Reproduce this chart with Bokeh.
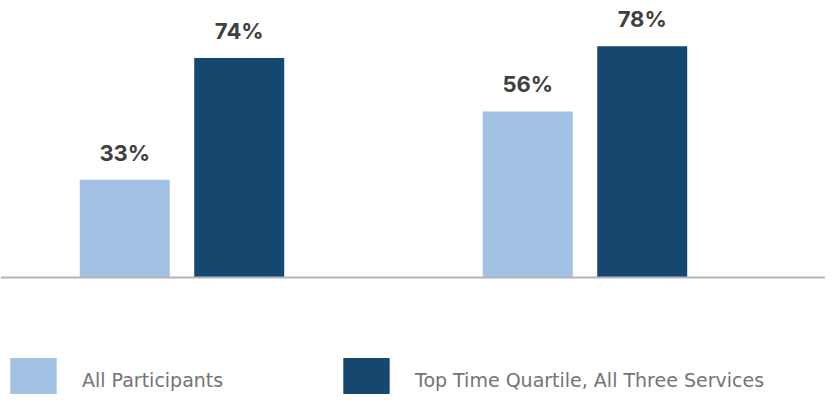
from bokeh.plotting import figure
from bokeh.models import ColumnDataSource, LabelSet, Span, Legend, LegendItem, Range1d
from bokeh.core.properties import value
from bokeh.transform import dodge
from bokeh.embed import file_html
from bokeh.resources import INLINE

groups = [0, 1]
series_names = ["All Participants", "Top Time Quartile, All Three Services"]
all_participants = [33, 56]
top_quartile = [74, 78]
colors = ["#A1C1E5", "#16486F"]

src = ColumnDataSource(dict(
    x=groups,
    a=all_participants,
    b=top_quartile,
    a_lab=[f"{v}%" for v in all_participants],
    b_lab=[f"{v}%" for v in top_quartile],
))

p = figure(width=825, height=394, output_backend="svg", toolbar_location=None,
           x_range=Range1d(-0.4504, 1.5968), y_range=Range1d(-39.46, 93.42),
           min_border=0, min_border_left=0, min_border_right=0,
           min_border_top=0, min_border_bottom=0)
p.axis.visible = False
p.grid.visible = False
p.outline_line_color = None
p.background_fill_color = "white"

bw = 0.2233
off = 0.1420
r1 = p.vbar(x=dodge("x", -off, range=p.x_range), top="a", bottom=0, width=bw, source=src,
            fill_color=colors[0], line_color=None)
r2 = p.vbar(x=dodge("x", off, range=p.x_range), top="b", bottom=0, width=bw, source=src,
            fill_color=colors[1], line_color=None)

p.add_layout(Span(location=0, dimension="width", line_color="#B4B4BC", line_width=2))

for col, lab, sign in (("a", "a_lab", -1), ("b", "b_lab", 1)):
    ls = LabelSet(x=dodge("x", sign * off, range=p.x_range), y=col, text=lab, source=src,
                  text_align="center", text_baseline="alphabetic", y_offset=19,
                  text_font=value("Inter"), text_font_style="bold", text_font_size="22px",
                  text_color="#404040")
    p.add_layout(ls)

legend = Legend(items=[LegendItem(label=series_names[0], renderers=[r1]),
                       LegendItem(label=series_names[1], renderers=[r2])],
                orientation="horizontal", location=(4, -13),
                glyph_width=58, glyph_height=55, label_standoff=20,
                label_width=235, spacing=20, padding=0, margin=0,
                border_line_color=None, background_fill_alpha=0,
                label_text_font="DejaVu Sans", label_text_font_size="19px",
                label_text_color="#747474")
p.add_layout(legend, "center")

open("out.html", "w").write(file_html(p, INLINE))
